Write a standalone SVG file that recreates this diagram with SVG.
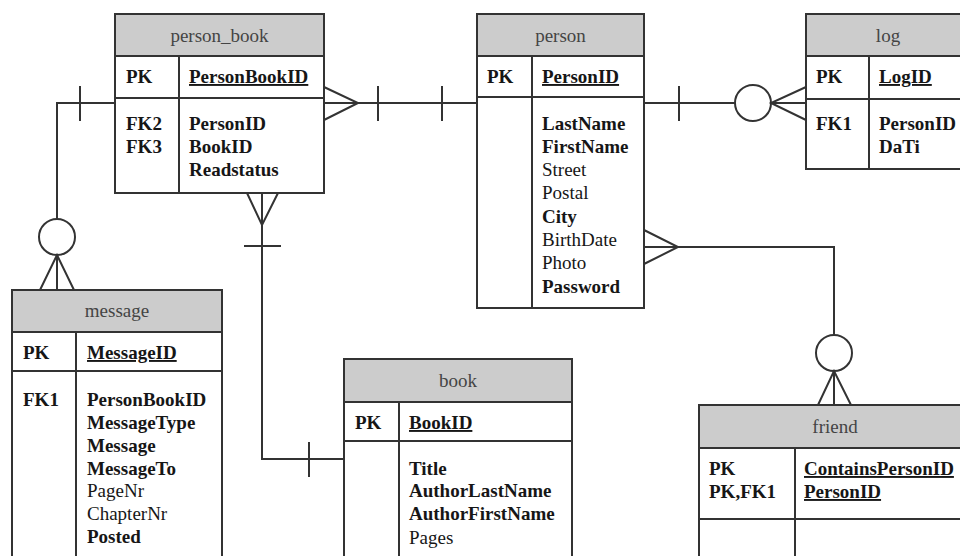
<svg xmlns="http://www.w3.org/2000/svg" width="960" height="556" viewBox="0 0 960 556" font-family="'Liberation Serif', 'Times New Roman', 'DejaVu Serif', serif">
  <style>
    .box { fill: #ffffff; stroke: #333333; stroke-width: 2; }
    .hdr { fill: #cccccc; stroke: #333333; stroke-width: 2; }
    .ln { fill: none; stroke: #333333; stroke-width: 2; }
    .circ { fill: #ffffff; stroke: #333333; stroke-width: 2; }
    text { font-family: 'Liberation Serif', 'Times New Roman', serif; font-size: 19px; fill: #161616; }
    .title { fill: #444444; text-anchor: middle; }
    .b { font-weight: bold; }
    .u { font-weight: bold; text-decoration: underline; }
  </style>

  <rect width="960" height="556" fill="#ffffff"/>

  <!-- relationship lines -->
  <g id="connectors">
    <!-- person_book (many) to person (exactly one) -->
    <path class="ln" d="M324 103 H477"/>
    <path class="ln" d="M324 87 L358 103 L324 120"/>
    <path class="ln" d="M378 86 V121 M442 86 V121"/>

    <!-- person (one) to log (zero or many) -->
    <path class="ln" d="M644 103 H735"/>
    <path class="ln" d="M679 86 V121"/>
    <circle class="circ" cx="753" cy="103" r="18"/>
    <path class="ln" d="M771 103 H806 M806 87 L771 103 L806 120"/>

    <!-- person_book (one) to message (zero or many) -->
    <path class="ln" d="M115 103 H57 V219"/>
    <path class="ln" d="M80 86 V121"/>
    <circle class="circ" cx="57" cy="237" r="18"/>
    <path class="ln" d="M57 255 V290 M40 290 L57 255 L74 290"/>

    <!-- person_book (many) to book (one) -->
    <path class="ln" d="M262 193 V459 H344"/>
    <path class="ln" d="M247 193 L262 225 L278 193"/>
    <path class="ln" d="M244 246 H281"/>
    <path class="ln" d="M309 442 V477"/>

    <!-- person (many) to friend (zero or many) -->
    <path class="ln" d="M644 247 H834 V335"/>
    <path class="ln" d="M644 230 L678 247 L644 264"/>
    <circle class="circ" cx="834" cy="353" r="18"/>
    <path class="ln" d="M834 371 V405 M818 405 L834 371 L851 405"/>
  </g>

  <!-- person_book table -->
  <g id="person_book">
    <rect class="box" x="115" y="14" width="209" height="179"/>
    <rect class="hdr" x="115" y="14" width="209" height="42"/>
    <path class="ln" d="M115 98 H324 M179 56 V193"/>
    <text class="title" x="219.500" y="42">person_book</text>
    <text class="b" x="126" y="83">PK</text>
    <text class="u" x="189" y="83">PersonBookID</text>
    <text class="b" x="126" y="130">FK2</text>
    <text class="b" x="126" y="153">FK3</text>
    <text class="b" x="189" y="130">PersonID</text>
    <text class="b" x="189" y="153">BookID</text>
    <text class="b" x="189" y="176">Readstatus</text>
  </g>

  <!-- person table -->
  <g id="person">
    <rect class="box" x="477" y="14" width="167" height="294"/>
    <rect class="hdr" x="477" y="14" width="167" height="42"/>
    <path class="ln" d="M477 97 H644 M532 56 V308"/>
    <text class="title" x="560.500" y="42">person</text>
    <text class="b" x="487" y="83">PK</text>
    <text class="u" x="542" y="83">PersonID</text>
    <text class="b" x="542" y="130">LastName</text>
    <text class="b" x="542" y="153">FirstName</text>
    <text x="542" y="176">Street</text>
    <text x="542" y="199">Postal</text>
    <text class="b" x="542" y="223">City</text>
    <text x="542" y="246">BirthDate</text>
    <text x="542" y="269">Photo</text>
    <text class="b" x="542" y="293">Password</text>
  </g>

  <!-- log table -->
  <g id="log">
    <rect class="box" x="806" y="14" width="164" height="155"/>
    <rect class="hdr" x="806" y="14" width="164" height="42"/>
    <path class="ln" d="M806 99 H970 M869 56 V169"/>
    <text class="title" x="888" y="42">log</text>
    <text class="b" x="816" y="83">PK</text>
    <text class="u" x="879" y="83">LogID</text>
    <text class="b" x="816" y="130">FK1</text>
    <text class="b" x="879" y="130">PersonID</text>
    <text class="b" x="879" y="153">DaTi</text>
  </g>

  <!-- message table -->
  <g id="message">
    <rect class="box" x="12" y="290" width="210" height="280"/>
    <rect class="hdr" x="12" y="290" width="210" height="42"/>
    <path class="ln" d="M12 371 H222 M76 332 V570"/>
    <text class="title" x="117" y="317">message</text>
    <text class="b" x="23" y="359">PK</text>
    <text class="u" x="87" y="359">MessageID</text>
    <text class="b" x="23" y="406">FK1</text>
    <text class="b" x="87" y="406">PersonBookID</text>
    <text class="b" x="87" y="429">MessageType</text>
    <text class="b" x="87" y="452">Message</text>
    <text class="b" x="87" y="475">MessageTo</text>
    <text x="87" y="497">PageNr</text>
    <text x="87" y="520">ChapterNr</text>
    <text class="b" x="87" y="543">Posted</text>
  </g>

  <!-- book table -->
  <g id="book">
    <rect class="box" x="344" y="359" width="228" height="211"/>
    <rect class="hdr" x="344" y="359" width="228" height="43"/>
    <path class="ln" d="M344 441 H572 M399 402 V570"/>
    <text class="title" x="458" y="387">book</text>
    <text class="b" x="355" y="429">PK</text>
    <text class="u" x="409" y="429">BookID</text>
    <text class="b" x="409" y="475">Title</text>
    <text class="b" x="409" y="497">AuthorLastName</text>
    <text class="b" x="409" y="520">AuthorFirstName</text>
    <text x="409" y="544">Pages</text>
  </g>

  <!-- friend table -->
  <g id="friend">
    <rect class="box" x="699" y="405" width="272" height="165"/>
    <rect class="hdr" x="699" y="405" width="272" height="43"/>
    <path class="ln" d="M699 519 H971 M795 448 V570"/>
    <text class="title" x="835" y="433">friend</text>
    <text class="b" x="709" y="475">PK</text>
    <text class="b" x="709" y="498">PK,FK1</text>
    <text class="u" x="804" y="475">ContainsPersonID</text>
    <text class="u" x="804" y="498">PersonID</text>
  </g>
</svg>
